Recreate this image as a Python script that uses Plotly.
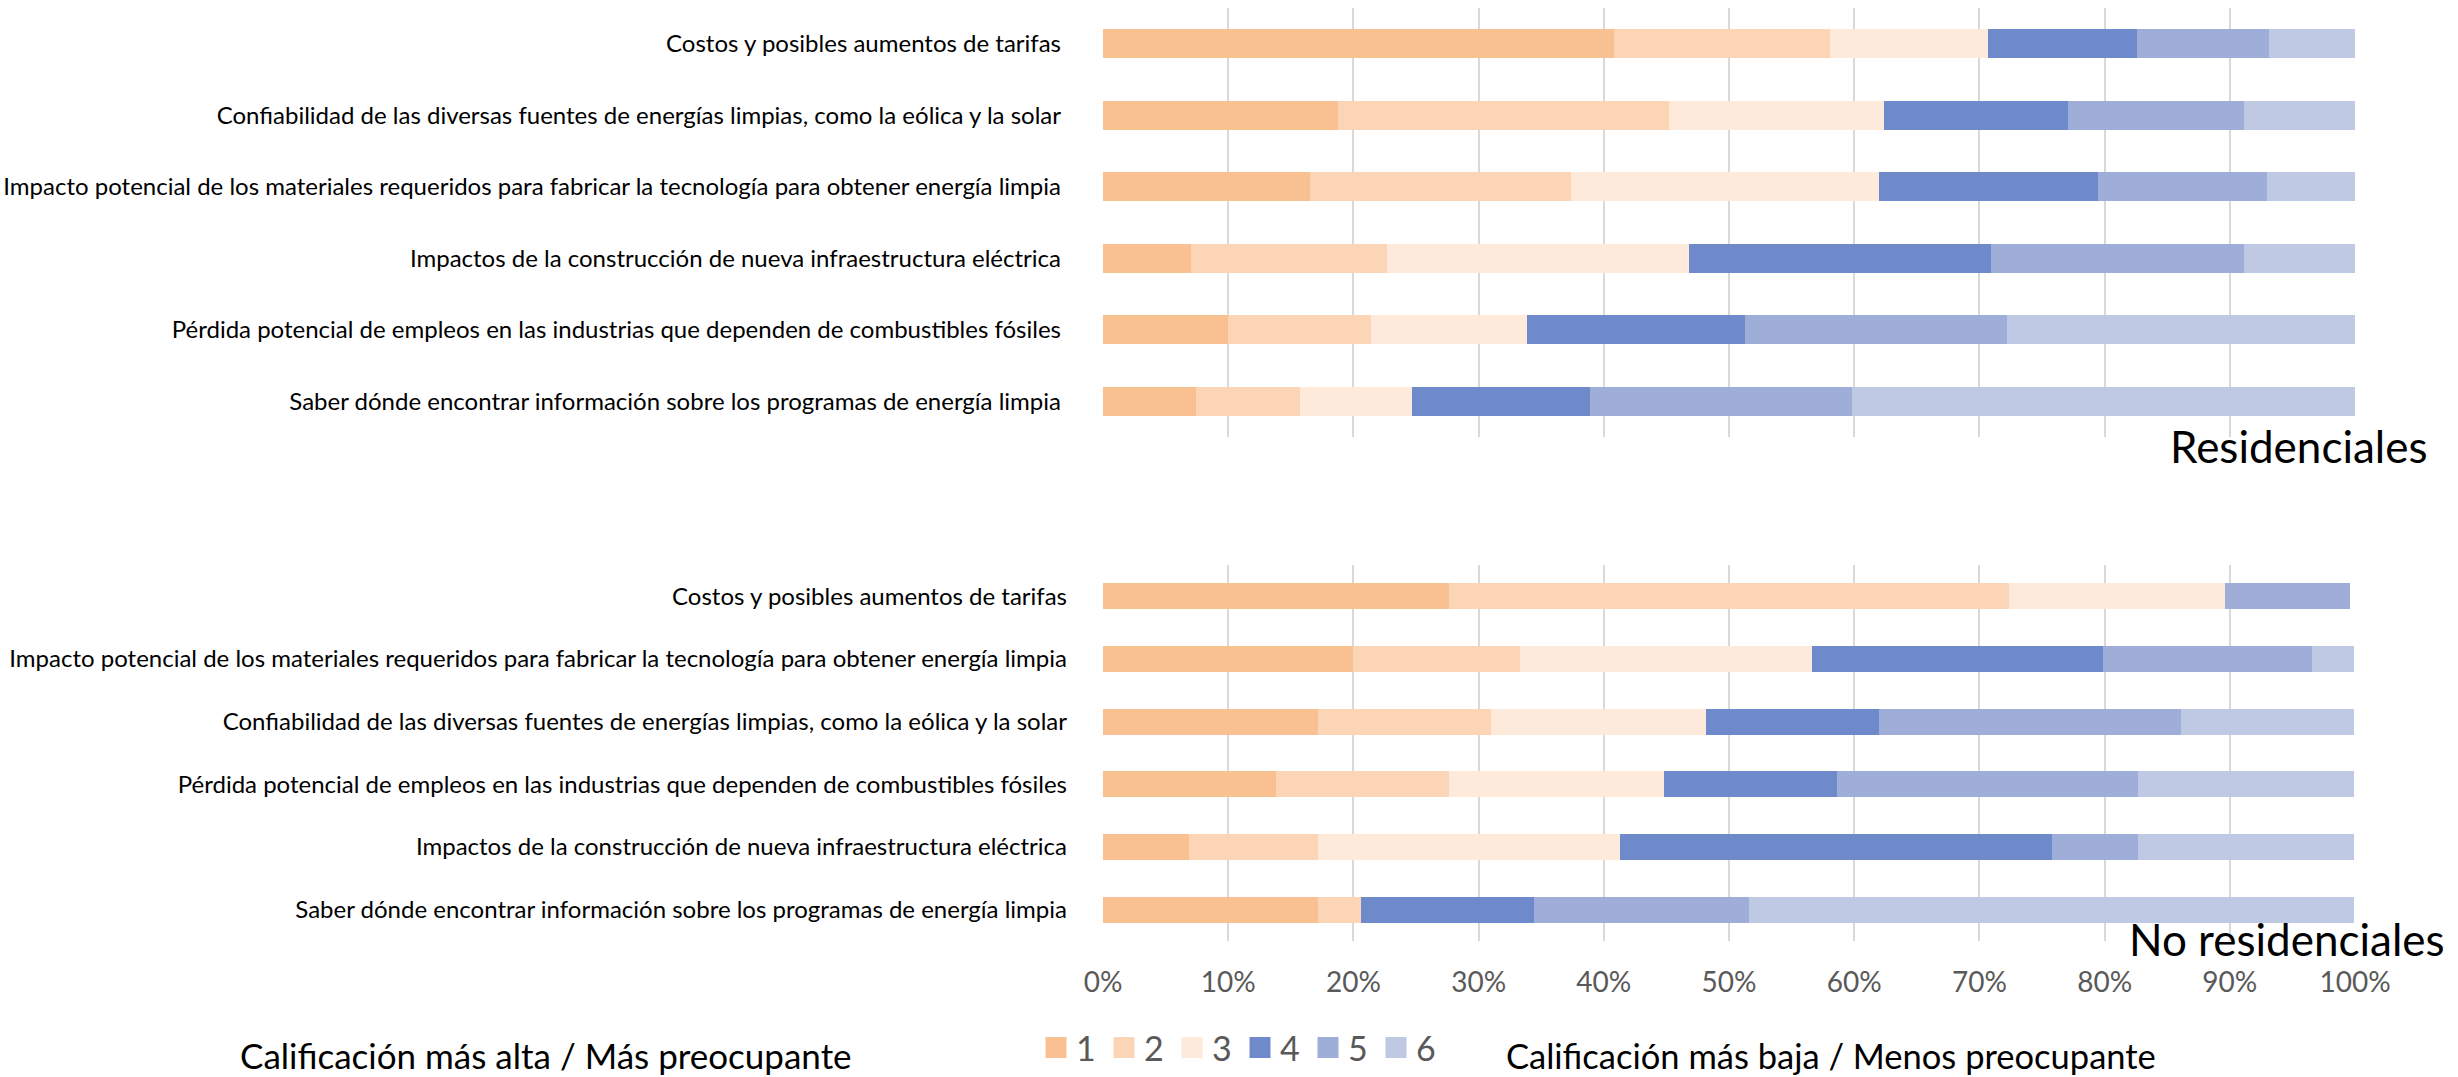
import plotly.graph_objects as go
from plotly.subplots import make_subplots

# ---------------- data ----------------
series_names = ["1", "2", "3", "4", "5", "6"]
series_colors = ["#F9C191", "#FBD5B5", "#FDEADA", "#6F8ACB", "#9FAED8", "#BFC9E4"]

res_categories = [
    "Costos y posibles aumentos de tarifas",
    "Confiabilidad de las diversas fuentes de energías limpias, como la eólica y la solar",
    "Impacto potencial de los materiales requeridos para fabricar la tecnología para obtener energía limpia",
    "Impactos de la construcción de nueva infraestructura eléctrica",
    "Pérdida potencial de empleos en las industrias que dependen de combustibles fósiles",
    "Saber dónde encontrar información sobre los programas de energía limpia",
]
res_1 = [40.8, 18.8, 16.5, 7.0, 10.0, 7.4]
res_2 = [17.3, 26.4, 20.9, 15.7, 11.4, 8.3]
res_3 = [12.6, 17.2, 24.6, 24.1, 12.5, 9.0]
res_4 = [11.9, 14.7, 17.5, 24.1, 17.4, 14.2]
res_5 = [10.5, 14.0, 13.5, 20.2, 20.9, 20.9]
res_6 = [6.9, 8.9, 7.0, 8.9, 27.8, 40.2]

nores_categories = [
    "Costos y posibles aumentos de tarifas",
    "Impacto potencial de los materiales requeridos para fabricar la tecnología para obtener energía limpia",
    "Confiabilidad de las diversas fuentes de energías limpias, como la eólica y la solar",
    "Pérdida potencial de empleos en las industrias que dependen de combustibles fósiles",
    "Impactos de la construcción de nueva infraestructura eléctrica",
    "Saber dónde encontrar información sobre los programas de energía limpia",
]
nores_1 = [27.6, 20.0, 17.2, 13.8, 6.9, 17.2]
nores_2 = [44.8, 13.3, 13.8, 13.8, 10.3, 3.4]
nores_3 = [17.2, 23.3, 17.2, 17.2, 24.1, 0.0]
nores_4 = [0.0, 23.3, 13.8, 13.8, 34.5, 13.8]
nores_5 = [10.0, 16.7, 24.1, 24.1, 6.9, 17.2]
nores_6 = [0.0, 3.3, 13.8, 17.2, 17.2, 48.3]

x_ticks = [0, 10, 20, 30, 40, 50, 60, 70, 80, 90, 100]

panel_titles = ["Residenciales", "No residenciales"]
left_note = "Calificación más alta / Más preocupante"
right_note = "Calificación más baja / Menos preocupante"

# ---------------- figure ----------------
W, H = 2458, 1077
FONT = "Lato"

fig = make_subplots(rows=2, cols=1, shared_xaxes=False, vertical_spacing=0.1)

res_series = [res_1, res_2, res_3, res_4, res_5, res_6]
nores_series = [nores_1, nores_2, nores_3, nores_4, nores_5, nores_6]

for name, color, vals in zip(series_names, series_colors, res_series):
    fig.add_trace(go.Bar(y=res_categories, x=vals, orientation="h", name=name,
                         marker=dict(color=color, line=dict(width=0)),
                         showlegend=False, hoverinfo="x+y"), row=1, col=1)
for name, color, vals in zip(series_names, series_colors, nores_series):
    fig.add_trace(go.Bar(y=nores_categories, x=vals, orientation="h", name=name,
                         marker=dict(color=color, line=dict(width=0)),
                         showlegend=False, hoverinfo="x+y"), row=2, col=1)
# legend entries (square swatches)
for name, color in zip(series_names, series_colors):
    fig.add_trace(go.Scatter(x=[None], y=[None], mode="markers", name=name,
                             marker=dict(symbol="square", size=16, color=color,
                                         line=dict(width=5, color=color)),
                             showlegend=True), row=2, col=1)

xdom = [1103 / W, 2355 / W]
fig.update_layout(
    width=W, height=H,
    margin=dict(l=0, r=0, t=0, b=0, autoexpand=False),
    paper_bgcolor="white", plot_bgcolor="white",
    barmode="stack", bargap=0.59,
    font=dict(family=FONT, color="black"),
    xaxis=dict(domain=xdom, anchor="y", range=[0, 100], tickvals=x_ticks,
               showticklabels=False, showgrid=True, gridcolor="#D9D9D9", gridwidth=2,
               zeroline=False, showline=False, fixedrange=True, automargin=False),
    yaxis=dict(domain=[1 - 437 / H, 1 - 8 / H], anchor="x", autorange="reversed",
               type="category", showgrid=False, zeroline=False, showline=False,
               tickfont=dict(size=24, color="black", family=FONT), ticks="",
               ticklabelstandoff=41, automargin=False),
    xaxis2=dict(domain=xdom, anchor="y2", range=[0, 100], tickvals=x_ticks,
                ticktext=[f"{v}%" for v in x_ticks],
                showticklabels=True, showgrid=True, gridcolor="#D9D9D9", gridwidth=2,
                zeroline=False, showline=False, ticks="",
                tickfont=dict(size=28, color="#595959", family=FONT),
                ticklabelstandoff=22, automargin=False),
    yaxis2=dict(domain=[1 - 941 / H, 1 - 565 / H], anchor="x2", autorange="reversed",
                type="category", showgrid=False, zeroline=False, showline=False,
                tickfont=dict(size=24, color="black", family=FONT), ticks="",
                ticklabelstandoff=35, automargin=False),
    legend=dict(orientation="h", x=1036 / W, xanchor="left", y=0, yanchor="bottom",
                traceorder="normal",
                font=dict(size=34, color="#595959", family=FONT),
                bgcolor="rgba(0,0,0,0)", borderwidth=0, entrywidth=23,
                tracegroupgap=0, itemclick=False, itemdoubleclick=False),
)

fig.add_annotation(text=panel_titles[0], xref="paper", yref="paper",
                   x=2430 / W, y=1 - 446 / H, xanchor="right", yanchor="middle",
                   showarrow=False, font=dict(size=44, color="black", family=FONT))
fig.add_annotation(text=panel_titles[1], xref="paper", yref="paper",
                   x=2447 / W, y=1 - 939 / H, xanchor="right", yanchor="middle",
                   showarrow=False, font=dict(size=44, color="black", family=FONT))
fig.add_annotation(text=left_note, xref="paper", yref="paper",
                   x=238 / W, y=1 - 1055 / H, xanchor="left", yanchor="middle",
                   showarrow=False, font=dict(size=35, color="black", family=FONT))
fig.add_annotation(text=right_note, xref="paper", yref="paper",
                   x=1504 / W, y=1 - 1055 / H, xanchor="left", yanchor="middle",
                   showarrow=False, font=dict(size=34.5, color="black", family=FONT))

fig.write_html("out.html")
